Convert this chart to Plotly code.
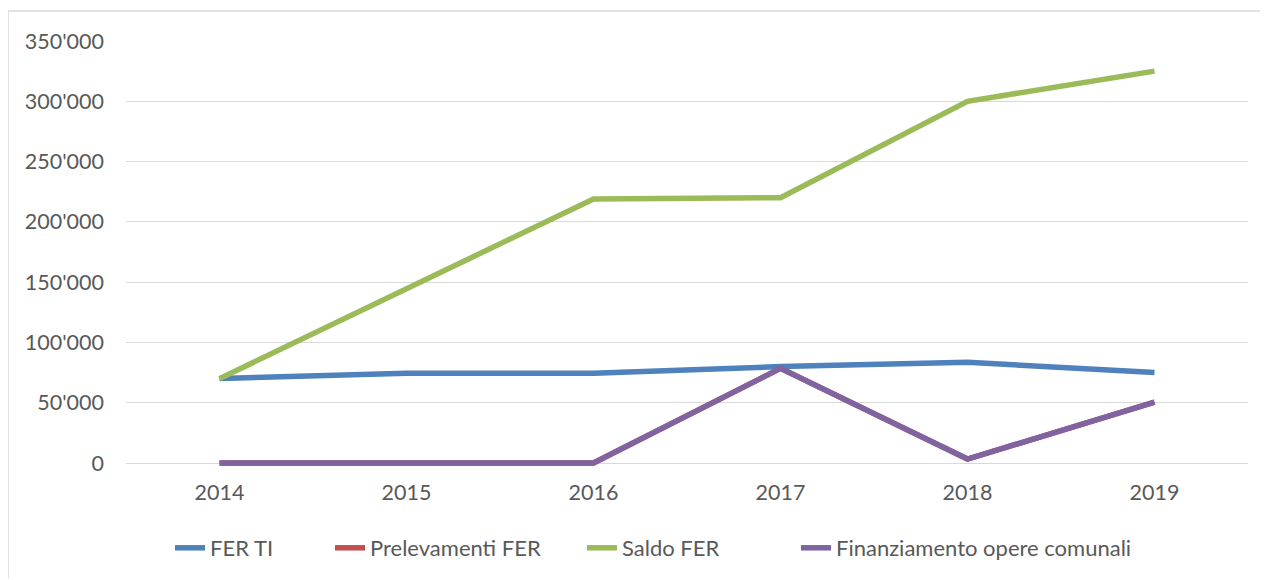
import plotly.graph_objects as go

years = ["2014", "2015", "2016", "2017", "2018", "2019"]
fer_ti = [70000, 74500, 74500, 80000, 83500, 75000]
prelevamenti_fer = [0, 0, 0, 78500, 3300, 50500]
saldo_fer = [70000, 145000, 219000, 220000, 300000, 325000]
finanziamento_opere = [0, 0, 0, 78500, 3300, 50500]

series = [
    ("FER TI", fer_ti, "#4f81bd", "legend"),
    ("Prelevamenti FER", prelevamenti_fer, "#c0504d", "legend2"),
    ("Saldo FER", saldo_fer, "#9bbb59", "legend3"),
    ("Finanziamento opere comunali", finanziamento_opere, "#8064a2", "legend4"),
]
# screen x where each legend entry's text starts in the reference
legend_text_x = [210, 370, 622, 836]

fig = go.Figure()
for name, vals, col, lg in series:
    fig.add_trace(go.Scatter(
        x=years, y=vals, name=name, mode="lines",
        line=dict(color=col, width=5.5),
        hoverinfo="skip", legend=lg,
    ))

FONT = "Lato"
OFF = 8  # page body margin offset
W, H = 1268 - OFF, 580 - OFF
YMAX = 350000
SL, SR, ST = 126, 1248, 41
ZERO_Y = 464
PXU = (ZERO_Y - ST) / YMAX  # pixels per unit
EXTRA = 5  # px below zero so the zero-valued lines are not clipped
SB = ZERO_Y + EXTRA
YMIN = -EXTRA / PXU
L, T = SL - OFF, ST - OFF
pw, ph = SR - SL, SB - ST
R = W - L - pw
B = H - T - ph

def px(x):
    return (x - SL) / pw

def py(y):
    return (SB - y) / ph

TEXT_OFFSET = 40  # distance from legend x to its text start (estimated)
legends = {}
for i, key in enumerate(["legend", "legend2", "legend3", "legend4"]):
    legends[key] = dict(
        orientation="h", x=px(legend_text_x[i] - TEXT_OFFSET), xanchor="left",
        y=py(548), yanchor="middle", bgcolor="rgba(0,0,0,0)",
        font=dict(family=FONT, size=22, color="#595959"),
    )

fig.update_layout(
    width=W, height=H,
    margin=dict(l=L, r=R, t=T, b=B),
    paper_bgcolor="white", plot_bgcolor="white",
    separators=".'",
    font=dict(family=FONT, size=21.5, color="#595959"),
    showlegend=True,
    xaxis=dict(
        type="category", range=[-0.5, 5.5], showgrid=False, zeroline=False,
        showline=False, ticks="", ticklabelstandoff=14 - EXTRA,
        tickfont=dict(family=FONT, size=21.5, color="#595959"),
    ),
    yaxis=dict(
        range=[YMIN, YMAX], tick0=0, dtick=50000, tickformat=",d",
        showgrid=True, gridcolor="#d9d9d9", gridwidth=1,
        zeroline=True, zerolinecolor="#d9d9d9", zerolinewidth=1,
        showline=False, ticks="", ticklabelstandoff=21,
        tickfont=dict(family=FONT, size=21.5, color="#595959"),
    ),
    shapes=[
        dict(type="line", xref="paper", yref="paper",
             x0=px(8), x1=px(1268), y0=py(11), y1=py(11),
             line=dict(color="#d9d9d9", width=1.5)),
        dict(type="line", xref="paper", yref="paper",
             x0=px(8), x1=px(8), y0=py(11), y1=py(580),
             line=dict(color="#d9d9d9", width=1.5)),
    ],
    **legends,
)

fig.write_html("out.html")
